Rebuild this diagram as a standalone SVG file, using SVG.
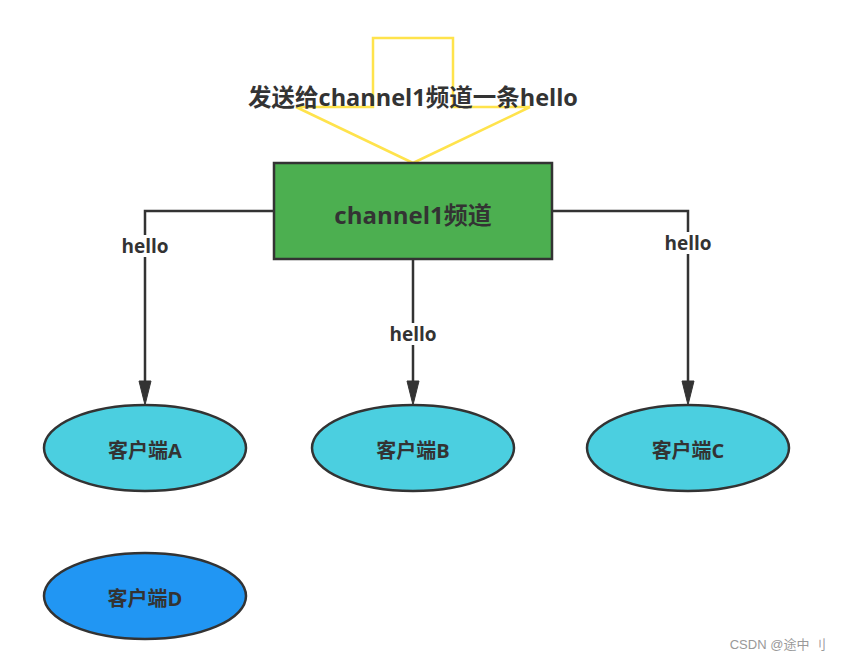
<svg xmlns="http://www.w3.org/2000/svg" width="841" height="660" viewBox="0 0 841 660">
<defs>
<style>
.t{font-family:"Open Sans","Noto Sans","Noto Sans CJK SC",sans-serif;font-weight:bold;fill:#333;text-anchor:middle}
.edge{fill:none;stroke:#333;stroke-width:2.5}
.ah{fill:#333;stroke:#333;stroke-width:1}
.lbl{fill:#fff}
.ell{stroke:#333;stroke-width:2.5}
</style>
</defs>
<rect width="841" height="660" fill="#fff"/>
<g id="bigarrow">
<polygon points="373,38 453,38 453,107 530,107 413,163 296,107 373,107" fill="none" stroke="#FFE34C" stroke-width="2.5"/>
<text class="t" x="413" y="106" font-size="23.5">发送给channel1频道一条hello</text>
</g>
<g id="connectors">
<path class="edge" d="M274,211 H145 V384"/>
<polygon class="ah" points="139,381 151,381 145,405"/>
<path class="edge" d="M413,259 V384"/>
<polygon class="ah" points="407,381 419,381 413,405"/>
<path class="edge" d="M552,211 H688 V384"/>
<polygon class="ah" points="682,381 694,381 688,405"/>
<rect class="lbl" x="118" y="235" width="54" height="22"/>
<text class="t" x="145" y="253" font-size="19">hello</text>
<rect class="lbl" x="386" y="323" width="54" height="22"/>
<text class="t" x="413" y="341" font-size="19">hello</text>
<rect class="lbl" x="661" y="232" width="54" height="22"/>
<text class="t" x="688" y="250" font-size="19">hello</text>
</g>
<g id="channel">
<rect x="274" y="163" width="278" height="96" fill="#4CAF50" stroke="#333" stroke-width="2.5"/>
<text class="t" x="413" y="224" font-size="24">channel1频道</text>
</g>
<g id="clientA">
<ellipse class="ell" cx="145" cy="448" rx="101" ry="43" fill="#4BCFE0"/>
<text class="t" x="145" y="458" font-size="20">客户端A</text>
</g>
<g id="clientB">
<ellipse class="ell" cx="413" cy="448" rx="101" ry="43" fill="#4BCFE0"/>
<text class="t" x="413" y="458" font-size="20">客户端B</text>
</g>
<g id="clientC">
<ellipse class="ell" cx="688" cy="448" rx="101" ry="43" fill="#4BCFE0"/>
<text class="t" x="688" y="458" font-size="20">客户端C</text>
</g>
<g id="clientD">
<ellipse class="ell" cx="145" cy="596" rx="101" ry="43" fill="#2196F3"/>
<text class="t" x="145" y="606" font-size="20">客户端D</text>
</g>
<text x="826" y="649" font-family="'Liberation Sans','Noto Sans CJK SC',sans-serif" font-size="13" fill="#999" text-anchor="end">CSDN @途中 刂</text>
</svg>
